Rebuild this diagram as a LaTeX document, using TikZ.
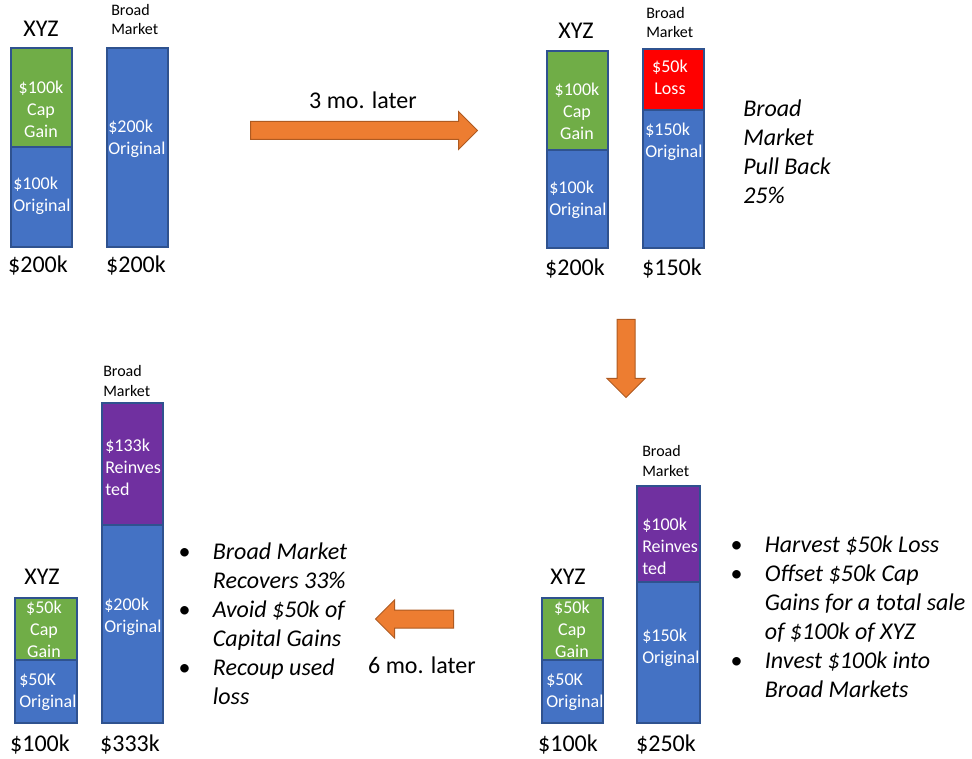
\documentclass[tikz,border=0pt]{standalone}
\usepackage{fontspec}
\setmainfont{Carlito}
\usetikzlibrary{fit,shapes.arrows}
\definecolor{barblue}{HTML}{4472C4}
\definecolor{barline}{HTML}{2F528F}
\definecolor{gaingreen}{HTML}{70AD47}
\definecolor{lossred}{HTML}{FF0000}
\definecolor{reinvpurple}{HTML}{7030A0}
\definecolor{arroworange}{HTML}{ED7D31}
\definecolor{arrowline}{HTML}{AE5A21}
\newcommand{\px}{0.75pt}
\tikzset{
  seg/.style={draw=barline, line width=1.5pt, inner sep=0pt},
  orig/.style={seg, fill=barblue},
  gain/.style={seg, fill=gaingreen},
  loss/.style={seg, fill=lossred},
  reinv/.style={seg, fill=reinvpurple},
  bartext/.style={text=white, font=\fontsize{13.5}{16.5}\selectfont, inner sep=0pt, align=center},
  barleft/.style={bartext, align=left, anchor=west},
  bigtext/.style={font=\fontsize{18}{21}\selectfont, inner sep=0pt},
  bmlabel/.style={font=\fontsize{12}{14.5}\selectfont, align=left, anchor=west, inner sep=0pt},
  note/.style={font=\fontsize{18}{21.75}\selectfont\itshape, align=left, anchor=west, inner sep=0pt},
  bigarrow/.style={single arrow, fill=arroworange, draw=arrowline, line width=0.75pt,
    inner xsep=0pt, inner ysep=8.5*\px, single arrow head extend=10*\px}
}
\begin{document}
\begin{tikzpicture}[x=\px, y=-\px]
  \useasboundingbox (0,0) rectangle (972,759);

  % start
  \node [gain, fit={(11,48) (72,147)}] (gainA) {};
  \node [orig, fit={(11,147) (72,247)}] (origA) {};
  \node [orig, fit={(107,48) (168,247)}] (bmA) {};
  \node [bigtext] (xyzA) at (41,29) {XYZ};
  \node [bmlabel] (bmnameA) at (111,19.5) {Broad\\Market};
  \node [bartext] (gaintxtA) at (41,109) {\$100k\\Cap\\Gain};
  \node [barleft] (origtxtA) at (13,196) {\$100k\\Original};
  \node [barleft] (bmtxtA) at (108,139) {\$200k\\Original};
  \node [bigtext] (totxyzA) at (38,266) {\$200k};
  \node [bigtext] (totbmA) at (136,266) {\$200k};

  \node [bigarrow, minimum height=227*\px] (later3) at (359.5,130.5) {};
  \node [bigtext] (later3txt) at (363,100) {3 mo. later};

  % pull back
  \node [gain, fit={(547,51) (608,150)}] (gainB) {};
  \node [orig, fit={(547,150) (608,248)}] (origB) {};
  \node [loss, fit={(643,49) (704,110)}] (lossB) {};
  \node [orig, fit={(643,110) (704,248)}] (bmB) {};
  \node [bigtext] (xyzB) at (576,31) {XYZ};
  \node [bmlabel] (bmnameB) at (646,22.5) {Broad\\Market};
  \node [bartext] (gaintxtB) at (577,111.5) {\$100k\\Cap\\Gain};
  \node [barleft] (origtxtB) at (549,200) {\$100k\\Original};
  \node [bartext] (losstxtB) at (670,77.5) {\$50k\\Loss};
  \node [barleft] (bmtxtB) at (645,141.5) {\$150k\\Original};
  \node [bigtext] (totxyzB) at (575,269) {\$200k};
  \node [bigtext] (totbmB) at (672,269) {\$150k};
  \node [note] (noteB) at (743,151.5) {Broad\\Market\\Pull Back\\25\%};

  \node [bigarrow, rotate=-90, minimum height=78*\px] (down) at (626,354) {};

  % harvest
  \node [gain, fit={(542,598) (603,660)}] (gainC) {};
  \node [orig, fit={(542,660) (603,723)}] (origC) {};
  \node [reinv, fit={(637,486) (700,582)}] (reinvC) {};
  \node [orig, fit={(637,582) (700,723)}] (bmC) {};
  \node [bigtext] (xyzC) at (568,577) {XYZ};
  \node [bmlabel] (bmnameC) at (642,461) {Broad\\Market};
  \node [bartext] (gaintxtC) at (572,629.5) {\$50k\\Cap\\Gain};
  \node [barleft] (origtxtC) at (546,692.5) {\$50K\\Original};
  \node [barleft] (reinvtxtC) at (642,546) {\$100k\\Reinves\\ted};
  \node [barleft] (bmtxtC) at (642,647.5) {\$150k\\Original};
  \node [bigtext] (totxyzC) at (568,745) {\$100k};
  \node [bigtext] (totbmC) at (666,745) {\$250k};
  \node [note] (noteC) at (730,619.5) {\begin{tabular}{@{}p{26pt}@{}l@{}}
      \textbullet & Harvest \$50k Loss\\
      \textbullet & Offset \$50k Cap\\
                  & Gains for a total sale\\
                  & of \$100k of XYZ\\
      \textbullet & Invest \$100k into\\
                  & Broad Markets
    \end{tabular}};

  \node [bigarrow, rotate=180, minimum height=78*\px] (later6) at (419,619) {};
  \node [bigtext] (later6txt) at (422,665) {6 mo. later};

  % recovery
  \node [gain, fit={(15,598) (77,660)}] (gainD) {};
  \node [orig, fit={(15,660) (77,723)}] (origD) {};
  \node [reinv, fit={(102,403) (163,525)}] (reinvD) {};
  \node [orig, fit={(102,525) (163,723)}] (bmD) {};
  \node [bigtext] (xyzD) at (42,577) {XYZ};
  \node [bmlabel] (bmnameD) at (103,381) {Broad\\Market};
  \node [bartext] (gaintxtD) at (44,629.5) {\$50k\\Cap\\Gain};
  \node [barleft] (origtxtD) at (19,692.5) {\$50K\\Original};
  \node [barleft] (reinvtxtD) at (105,467.5) {\$133k\\Reinves\\ted};
  \node [barleft] (bmtxtD) at (104,616.5) {\$200k\\Original};
  \node [bigtext] (totxyzD) at (40,745) {\$100k};
  \node [bigtext] (totbmD) at (130,745) {\$333k};
  \node [note] (noteD) at (178,626.5) {\begin{tabular}{@{}p{26pt}@{}l@{}}
      \textbullet & Broad Market\\
                  & Recovers 33\%\\
      \textbullet & Avoid \$50k of\\
                  & Capital Gains\\
      \textbullet & Recoup used\\
                  & loss
    \end{tabular}};
\end{tikzpicture}
\end{document}
